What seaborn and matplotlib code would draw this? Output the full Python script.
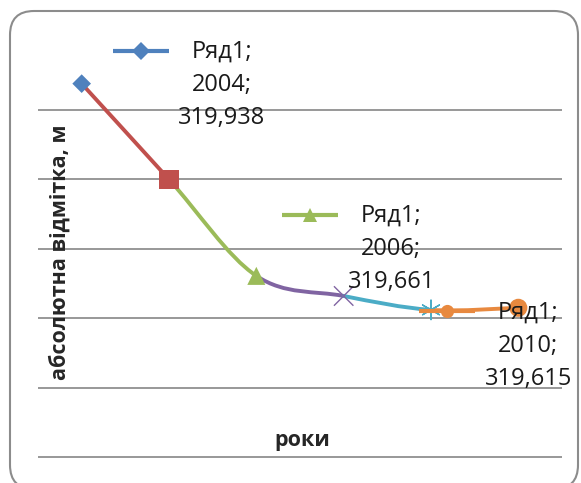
import numpy as np
import pandas as pd
import seaborn as sns
import matplotlib.pyplot as plt
from matplotlib.path import Path
from matplotlib.patches import PathPatch, FancyBboxPatch
from matplotlib.transforms import offset_copy

# chart data
years = ['2004', '2005', '2006', '2007', '2008', '2010']
values = [319.938, 319.800, 319.661, 319.632, 319.612, 319.615]
series_name = 'Ряд1'
point_colors = ['#4F81BD', '#C0504D', '#9BBB59', '#8064A2', '#4BACC6', '#E8893F']
point_markers = ['D', 's', '^', 'x', (6, 2, 0), 'o']
marker_sizes = [9.5, 14, 13, 14, 14, 13]
labelled_years = ['2004', '2006', '2010']
y_ticks = [319.4, 319.5, 319.6, 319.7, 319.8, 319.9]
x_label = 'роки'
y_label = 'абсолютна відмітка, м'

sns.set_theme(style='white')
plt.rcParams['font.family'] = ['Open Sans', 'DejaVu Sans']

df = pd.DataFrame({'year': years, 'value': values, 'pos': np.arange(len(years))})
df['filled'] = [m in ('D', 's', '^', 'o') for m in point_markers]

fig = plt.figure(figsize=(5.81, 4.83), dpi=100)
ax = fig.add_axes([38 / 581, 0.0395, 524 / 581, 0.9159 - 0.0395])

# smoothed line, each segment in the colour of the point it runs to
pts = df[['pos', 'value']].to_numpy(dtype=float)
n = len(pts)
for i in range(n - 1):
    p0 = pts[max(i - 1, 0)]
    p1 = pts[i]
    p2 = pts[i + 1]
    p3 = pts[min(i + 2, n - 1)]
    c1 = p1 + (p2 - p0) / 6
    c2 = p2 - (p3 - p1) / 6
    seg = Path([p1, c1, c2, p2], [Path.MOVETO, Path.CURVE4, Path.CURVE4, Path.CURVE4])
    ax.add_patch(PathPatch(seg, fill=False, ec=point_colors[i + 1], lw=2.8,
                           capstyle='round', zorder=2))

palette = dict(zip(years, point_colors))
sizes = dict(zip(years, [s ** 2 for s in marker_sizes]))

# filled markers, then line-art markers (seaborn can't mix them in one call)
for filled, lw in [(True, 0), (False, 1)]:
    sub = df[df['filled'] == filled]
    sub_markers = {y: point_markers[years.index(y)] for y in sub['year']}
    sub_sizes = {y: sizes[y] for y in sub['year']}
    sns.scatterplot(data=sub, x='pos', y='value', hue='year', palette=palette,
                    style='year', markers=sub_markers, size='year', sizes=sub_sizes,
                    linewidth=lw, legend=False, zorder=4, ax=ax)

# data labels with legend keys
text_offsets = {'2004': (140, -1), '2006': (135, 27), '2010': (10, -38)}
key_offsets = {'2004': (59, 33), '2006': (54, 61), '2010': (-71, -3)}
for yr in labelled_years:
    i = years.index(yr)
    v = values[i]
    txt = f'{series_name};\n{yr};\n{v:.3f}'.replace('.', ',')
    ax.annotate(txt, xy=(i, v), xytext=text_offsets[yr], textcoords='offset pixels',
                ha='center', va='center', fontsize=17, linespacing=1.52,
                color='#1a1a1a', zorder=5, annotation_clip=False)
    kx, ky = key_offsets[yr]
    tr = offset_copy(ax.transData, fig=fig, x=kx, y=ky, units='dots')
    ax.plot([i], [v], marker='_', ms=40, mew=3, color=point_colors[i],
            transform=tr, clip_on=False, zorder=5)
    ax.plot([i], [v], marker=point_markers[i], ms=9.5, mew=0, color=point_colors[i],
            transform=tr, clip_on=False, zorder=6)

ax.set_xlim(-0.5, len(years) - 0.5)
ax.set_ylim(319.39, 320.0)
ax.set_yticks(y_ticks)
ax.set_xticks([])
ax.tick_params(left=False, labelleft=False, bottom=False, labelbottom=False)
ax.grid(axis='y', color='#868686', lw=1.2)
ax.grid(axis='x', visible=False)
for s in ax.spines.values():
    s.set_visible(False)

ax.set_xlabel(x_label, fontsize=15.5, fontweight='bold', va='center')
ax.xaxis.set_label_coords(0.504, 0.0565)
ax.set_ylabel(y_label, fontsize=15.5, fontweight='bold', va='center')
ax.yaxis.set_label_coords(22 / 524, (463.9 - 252) / 423.3)

# chart frame, its bottom edge runs off the image
fig.patches.append(FancyBboxPatch((0.10, -0.06), 5.68, 4.78,
                                  boxstyle='round,pad=0,rounding_size=0.24',
                                  transform=fig.dpi_scale_trans, fill=False,
                                  ec='#8c8c8c', lw=1.5))

fig.savefig('out.png', dpi=100)
